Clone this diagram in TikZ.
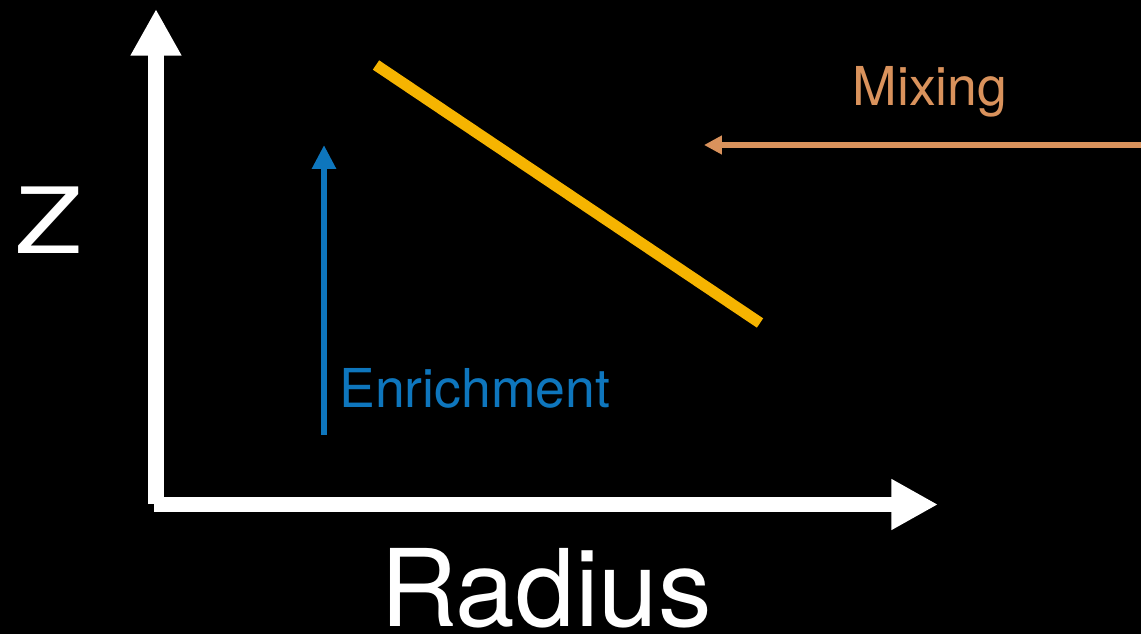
\documentclass[tikz,border=0pt]{standalone}
\usepackage{fontspec}
\setmainfont{TeX Gyre Heros}
\usetikzlibrary{arrows.meta}
\definecolor{trackorange}{RGB}{246,180,0}
\definecolor{enrichblue}{RGB}{14,118,189}
\definecolor{mixtan}{RGB}{217,146,92}
\tikzset{
  axisline/.style={white, line width=9pt, -{Triangle[length=26.6pt, width=27.2pt]}},
  bigtext/.style={white, inner sep=0pt, font=\fontsize{61}{62}\selectfont},
  midtext/.style={inner sep=0pt, font=\fontsize{30.5}{32}\selectfont}
}
\begin{document}
\begin{tikzpicture}[x=0.02cm, y=-0.02cm]
        \fill[black] (0,0) rectangle (1141,634);
        \useasboundingbox (0,0) rectangle (1141,634);
        \coordinate (yfoot) at (156,504);
        \coordinate (ytip) at (156,9);
        \coordinate (xfoot) at (154,504.5);
        \coordinate (xtip) at (938,504.5);
        \draw[axisline] (yfoot) -- (ytip);
        \draw[axisline] (xfoot) -- (xtip);
        \node[bigtext, anchor=base, font=\fontsize{52}{54}\selectfont, xscale=1.19] (zlabel) at (49,254) {Z};
        \node[bigtext, anchor=base] (rlabel) at (546,626) {Radius};
        \coordinate (linetop) at (376,65);
        \coordinate (linebot) at (760,323);
        \draw[trackorange, line width=6.4pt] (linetop) -- (linebot);
        \coordinate (enrichfoot) at (324,435);
        \coordinate (enrichtip) at (324,145);
        \draw[enrichblue, line width=3.5pt, -{Triangle[length=13.6pt, width=13pt]}] (enrichfoot) -- (enrichtip);
        \node[midtext, enrichblue, anchor=base west] (enrichlabel) at (339,407) {Enrichment};
        \coordinate (mixfoot) at (1141,145);
        \coordinate (mixtip) at (704,145);
        \draw[mixtan, line width=3.4pt, -{Triangle[length=10.2pt, width=10.2pt]}] (mixfoot) -- (mixtip);
        \node[midtext, mixtan, anchor=base] (mixlabel) at (930,106) {Mixing};
\end{tikzpicture}
\end{document}
